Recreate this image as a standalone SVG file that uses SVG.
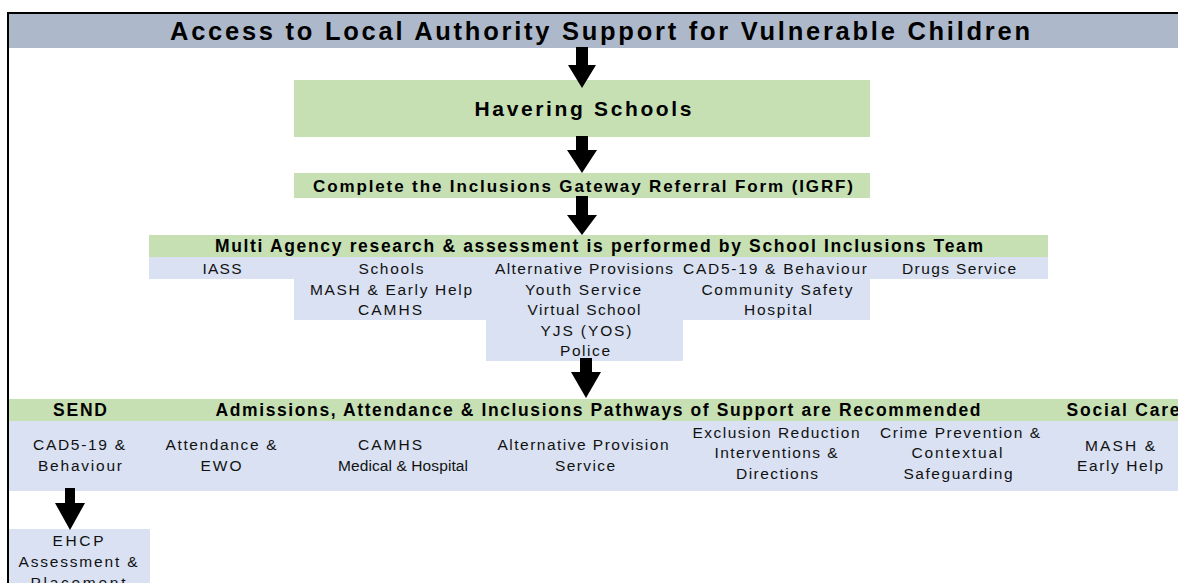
<svg xmlns="http://www.w3.org/2000/svg" width="1178" height="583" viewBox="0 0 1178 583">
<style>
.t{font-family:"Liberation Sans",Arial,sans-serif;fill:#000;text-anchor:middle}
.b{font-weight:bold}
.n{font-size:15.5px;fill:#111}
.g{fill:#c6e0b4}
.bl{fill:#d9e1f2}
.arr{fill:#000}
</style>
<rect x="0" y="0" width="1178" height="583" fill="#fff"/>
<g id="title">
<rect x="8" y="13" width="1170" height="35" fill="#adb9ca"/>
<text class="t b" x="600" y="40" font-size="25.5" textLength="860" lengthAdjust="spacing">Access to Local Authority Support for Vulnerable Children</text>
</g>
<g id="havering">
<rect class="g" x="294" y="80" width="576" height="57"/>
<text class="t b" x="583" y="116" font-size="21" textLength="217" lengthAdjust="spacing">Havering Schools</text>
</g>
<g id="igrf">
<rect class="g" x="294" y="173" width="576" height="25"/>
<text class="t b" x="583" y="192" font-size="17" textLength="540" lengthAdjust="spacing">Complete the Inclusions Gateway Referral Form (IGRF)</text>
</g>
<g id="multiagency">
<rect class="g" x="149" y="235" width="899" height="22"/>
<rect class="bl" x="149" y="257" width="899" height="22"/>
<rect class="bl" x="294" y="279" width="576" height="41"/>
<rect class="bl" x="486" y="320" width="197" height="41"/>
<text class="t b" x="599" y="252" font-size="17.5" textLength="768" lengthAdjust="spacing">Multi Agency research &amp; assessment is performed by  School Inclusions Team</text>
<text class="t n" x="222" y="274" textLength="39" lengthAdjust="spacing">IASS</text>
<text class="t n" x="391" y="274" textLength="65" lengthAdjust="spacing">Schools</text>
<text class="t n" x="584" y="274" textLength="178" lengthAdjust="spacing">Alternative Provisions</text>
<text class="t n" x="775" y="274" textLength="184" lengthAdjust="spacing">CAD5-19 &amp; Behaviour</text>
<text class="t n" x="959" y="274" textLength="114" lengthAdjust="spacing">Drugs Service</text>
<text class="t n" x="391" y="295" textLength="162" lengthAdjust="spacing">MASH &amp; Early Help</text>
<text class="t n" x="583" y="295" textLength="116" lengthAdjust="spacing">Youth Service</text>
<text class="t n" x="777" y="295" textLength="151" lengthAdjust="spacing">Community Safety</text>
<text class="t n" x="390" y="315" textLength="64" lengthAdjust="spacing">CAMHS</text>
<text class="t n" x="584" y="315" textLength="113" lengthAdjust="spacing">Virtual School</text>
<text class="t n" x="778" y="315" textLength="68" lengthAdjust="spacing">Hospital</text>
<text class="t n" x="586" y="336" textLength="91" lengthAdjust="spacing">YJS (YOS)</text>
<text class="t n" x="585" y="356" textLength="50" lengthAdjust="spacing">Police</text>
</g>
<g id="pathways">
<rect class="g" x="8" y="399" width="1170" height="22"/>
<rect class="bl" x="8" y="421" width="1170" height="70"/>
<text class="t b" x="80" y="416" font-size="17.5" textLength="54" lengthAdjust="spacing">SEND</text>
<text class="t b" x="598" y="416" font-size="17.5" textLength="765" lengthAdjust="spacing">Admissions, Attendance &amp; Inclusions Pathways of Support are Recommended</text>
<text class="t b" x="1123" y="416" font-size="17.5" textLength="113" lengthAdjust="spacing">Social Care</text>
<text class="t n" x="79" y="450" textLength="92" lengthAdjust="spacing">CAD5-19 &amp;</text>
<text class="t n" x="80" y="471" textLength="84" lengthAdjust="spacing">Behaviour</text>
<text class="t n" x="221" y="450" textLength="111" lengthAdjust="spacing">Attendance &amp;</text>
<text class="t n" x="221" y="471" textLength="41" lengthAdjust="spacing">EWO</text>
<text class="t n" x="390" y="450" textLength="64" lengthAdjust="spacing">CAMHS</text>
<text class="t n" x="403" y="471" textLength="130" lengthAdjust="spacing">Medical &amp; Hospital</text>
<text class="t n" x="583" y="450" textLength="171" lengthAdjust="spacing">Alternative Provision</text>
<text class="t n" x="585" y="471" textLength="60" lengthAdjust="spacing">Service</text>
<text class="t n" x="776" y="438" textLength="167" lengthAdjust="spacing">Exclusion Reduction</text>
<text class="t n" x="776" y="458" textLength="123" lengthAdjust="spacing">Interventions &amp;</text>
<text class="t n" x="777" y="479" textLength="82" lengthAdjust="spacing">Directions</text>
<text class="t n" x="960" y="438" textLength="160" lengthAdjust="spacing">Crime Prevention &amp;</text>
<text class="t n" x="957" y="458" textLength="91" lengthAdjust="spacing">Contextual</text>
<text class="t n" x="958" y="479" textLength="109" lengthAdjust="spacing">Safeguarding</text>
<text class="t n" x="1120" y="451" textLength="70" lengthAdjust="spacing">MASH &amp;</text>
<text class="t n" x="1120" y="471" textLength="86" lengthAdjust="spacing">Early Help</text>
</g>
<g id="ehcp">
<rect class="bl" x="8" y="529" width="142" height="54"/>
<text class="t n" x="78" y="546" textLength="51" lengthAdjust="spacing">EHCP</text>
<text class="t n" x="78" y="567" textLength="119" lengthAdjust="spacing">Assessment &amp;</text>
<text class="t n" x="78" y="588" textLength="95" lengthAdjust="spacing">Placement</text>
</g>
<g id="border" fill="none" stroke="#000" stroke-width="2">
<path d="M8 583 V13 H1178"/>
</g>
<g id="connectors">
<polygon class="arr" points="576,47 588,47 588,65 596,65 582,88 568,65 576,65"/>
<polygon class="arr" points="576,136 588,136 588,150 597,150 582,173 567,150 576,150"/>
<polygon class="arr" points="576,196 588,196 588,215 597,215 582,235 567,215 576,215"/>
<polygon class="arr" points="580,358 592,358 592,372 601,372 586,398 571,372 580,372"/>
<polygon class="arr" points="65,488 75,488 75,503 85,503 70,530 55,503 65,503"/>
</g>
</svg>
